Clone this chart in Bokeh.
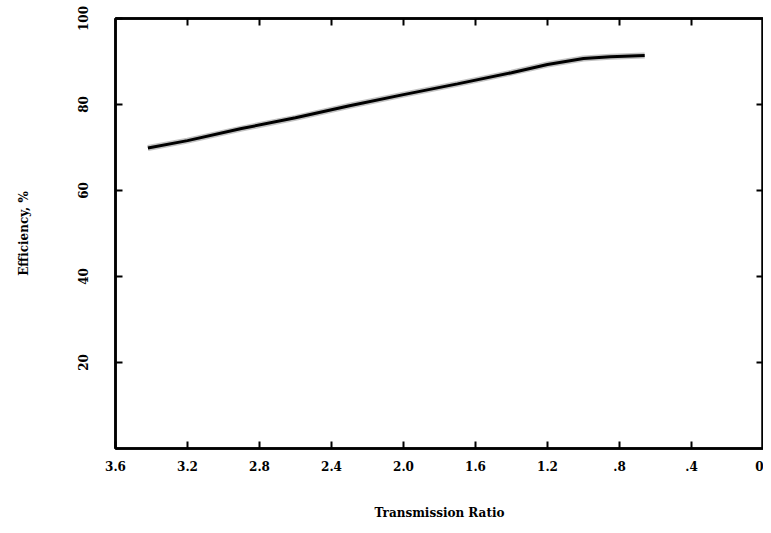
from bokeh.plotting import figure
from bokeh.models import LinearAxis, FixedTicker, Range1d
from bokeh.embed import file_html
from bokeh.resources import INLINE

# Data
ratio = [3.42, 3.2, 2.9, 2.6, 2.3, 2.0, 1.7, 1.4, 1.2, 1.0, 0.85, 0.66]
efficiency = [69.9, 71.6, 74.4, 76.9, 79.7, 82.3, 84.8, 87.4, 89.3, 90.7, 91.1, 91.4]

x_ticks = [3.6, 3.2, 2.8, 2.4, 2.0, 1.6, 1.2, 0.8, 0.4, 0.0]
x_tick_labels = ["3.6", "3.2", "2.8", "2.4", "2.0", "1.6", "1.2", ".8", ".4", "0"]
y_ticks = [20, 40, 60, 80, 100]
y_tick_labels = ["20", "40", "60", "80", "100"]

FONT = "DejaVu Serif"

p = figure(width=763, height=530, output_backend="svg", toolbar_location=None,
           x_range=Range1d(3.6, 0.0), y_range=Range1d(0, 100),
           min_border_left=115, min_border_top=18, min_border_bottom=82,
           min_border_right=0)
p.xgrid.visible = False
p.ygrid.visible = False
p.outline_line_color = "black"
p.outline_line_width = 2.5
p.background_fill_color = "white"
p.border_fill_color = "white"

# grey shadow + black curve
p.line(ratio, efficiency, line_color="#9a9a9a", line_width=6, line_alpha=0.6)
p.line(ratio, efficiency, line_color="black", line_width=3)

xa = p.xaxis[0]
xa.ticker = FixedTicker(ticks=x_ticks)
xa.major_label_overrides = {t: l for t, l in zip(x_ticks, x_tick_labels)}
xa.axis_label = "Transmission Ratio"

ya = p.yaxis[0]
ya.ticker = FixedTicker(ticks=y_ticks)
ya.major_label_overrides = {t: l for t, l in zip(y_ticks, y_tick_labels)}
ya.axis_label = "Efficiency, %"
ya.major_label_orientation = "vertical"

for ax in (xa, ya):
    ax.axis_line_color = "black"
    ax.axis_line_width = 2.5
    ax.major_tick_in = 7
    ax.major_tick_out = 0
    ax.major_tick_line_width = 2
    ax.minor_tick_line_color = None
    ax.major_label_text_font = FONT
    ax.major_label_text_font_style = "bold"
    ax.major_label_text_font_size = "12px"
    ax.major_label_text_color = "black"
    ax.axis_label_text_font = FONT
    ax.axis_label_text_font_style = "bold"
    ax.axis_label_text_font_size = "12px"
    ax.axis_label_text_color = "black"

xa.major_label_standoff = 12
xa.axis_label_standoff = 32
ya.major_label_standoff = 28
ya.axis_label_standoff = 44

top = LinearAxis(ticker=FixedTicker(ticks=x_ticks[1:-1]))
right = LinearAxis(ticker=FixedTicker(ticks=y_ticks[:-1]))
for ax in (top, right):
    ax.axis_line_color = "black"
    ax.axis_line_width = 2.5
    ax.major_tick_in = 7
    ax.major_tick_out = 0
    ax.major_tick_line_width = 2
    ax.minor_tick_line_color = None
    ax.major_label_text_font_size = "1px"
    ax.major_label_text_color = None
    ax.major_label_standoff = 0
    ax.axis_label = None
p.add_layout(top, "above")
p.add_layout(right, "right")

open("out.html", "w").write(file_html(p, INLINE))
